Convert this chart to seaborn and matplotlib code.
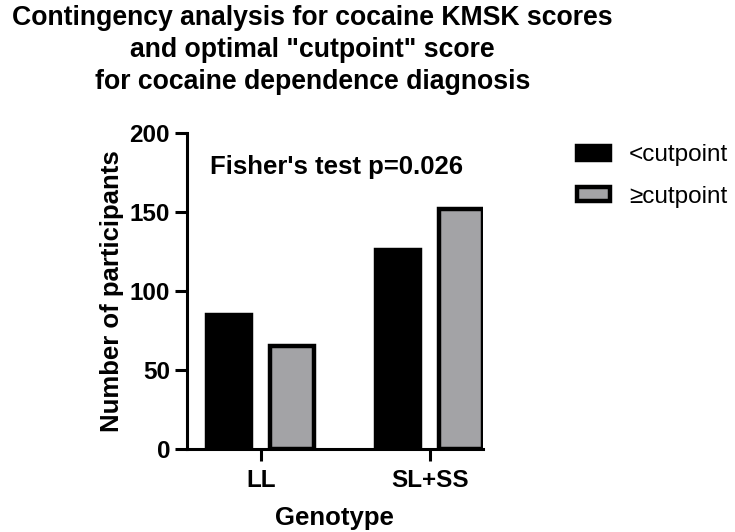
import pandas as pd
import matplotlib
matplotlib.use('Agg')
import matplotlib.pyplot as plt
import seaborn as sns

# data
genotypes = ['LL', 'SL+SS']
groups = ['<cutpoint', '\u2265cutpoint']
below_cut = [85, 126]
above_cut = [65, 152]

df = pd.DataFrame({
    'Genotype': genotypes * 2,
    'group': [groups[0]] * 2 + [groups[1]] * 2,
    'count': below_cut + above_cut,
})

sns.set_style('ticks', {'text.color': 'black', 'axes.labelcolor': 'black',
                        'xtick.color': 'black', 'ytick.color': 'black',
                        'axes.edgecolor': 'black'})
plt.rcParams['font.family'] = ['Liberation Sans', 'DejaVu Sans']

fig = plt.figure(figsize=(7.35, 5.32), dpi=100)
ax = fig.add_axes([0.254, 0.156, 0.403, 0.594])

sns.barplot(data=df, x='Genotype', y='count', hue='group', hue_order=groups,
            palette=['#000000', '#a3a3a7'], width=0.745, gap=0.3,
            edgecolor='black', linewidth=3.2, ax=ax)

ax.set_ylim(0, 200)
ax.set_yticks([0, 50, 100, 150, 200])
ax.set_xlim(-0.438, 1.314)
for s in ['top', 'right']:
    ax.spines[s].set_visible(False)
for s in ['left', 'bottom']:
    ax.spines[s].set_linewidth(2.2)
ax.tick_params(width=2.2, length=8.5, labelsize=17.5)
ax.tick_params(axis='x', pad=6)
for lab in ax.get_xticklabels() + ax.get_yticklabels():
    lab.set_fontweight('bold')

ax.set_xlabel('Genotype', fontsize=18.5, fontweight='bold', labelpad=10)
ax.set_ylabel('Number of participants', fontsize=18.5, fontweight='bold', labelpad=4)

ax.text(0.08, 0.893, "Fisher's test p=0.026", transform=ax.transAxes,
        fontsize=18.5, fontweight='bold', va='center')

handles, labels = ax.get_legend_handles_labels()
ax.legend(handles, labels, loc='upper left', bbox_to_anchor=(0.755, 0.77),
          bbox_transform=fig.transFigure, frameon=False, fontsize=17.5,
          handlelength=1.35, handleheight=0.5, labelspacing=0.8, handletextpad=0.8)

fig.text(0.425, 0.99, 'Contingency analysis for cocaine KMSK scores\n'
         'and optimal "cutpoint" score\nfor cocaine dependence diagnosis',
         ha='center', va='top', fontsize=19.2, fontweight='bold', linespacing=1.3)

fig.savefig('out.png', dpi=100)
